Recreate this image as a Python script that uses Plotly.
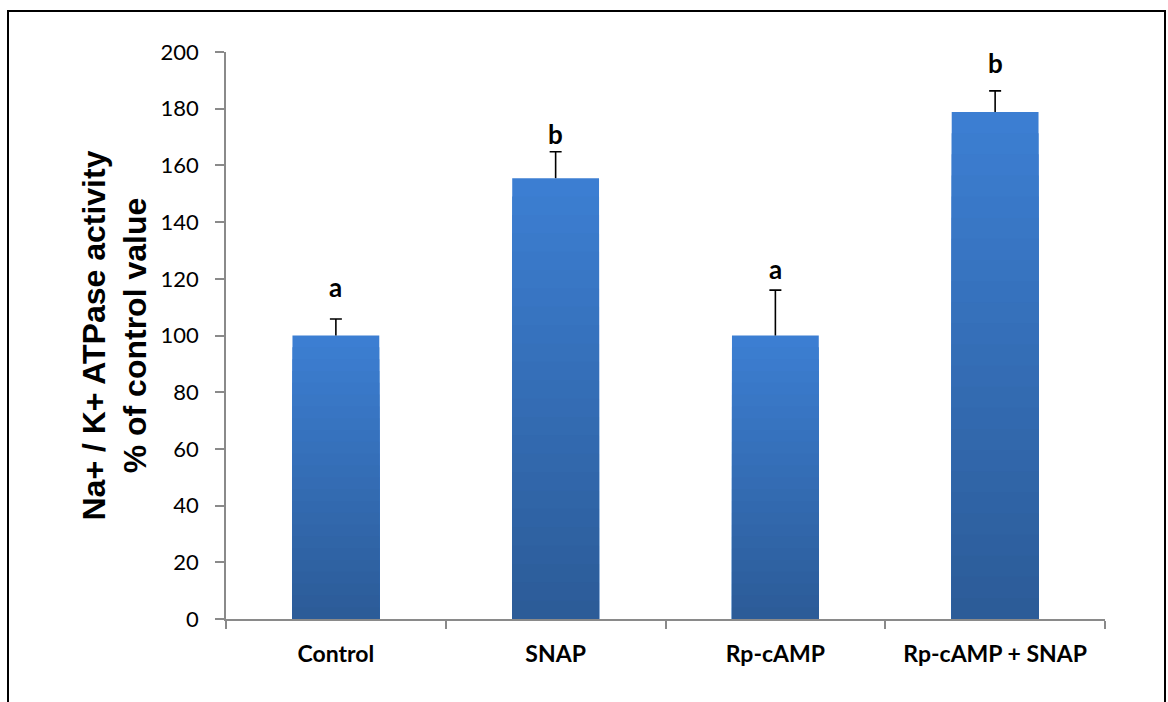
import plotly.graph_objects as go

categories = ["Control", "SNAP", "Rp-cAMP", "Rp-cAMP + SNAP"]
values = [100, 155.5, 100, 178.8]
errors = [5.8, 9.3, 16.0, 7.5]
letters = ["a", "b", "a", "b"]
letter_y = [117, 171, 123.5, 196]
y_ticks = [0, 20, 40, 60, 80, 100, 120, 140, 160, 180, 200]

W, H = 1168, 702
L, R, T, B = 226, 63, 52, 83
pw, ph = W - L - R, H - T - B

top_rgb = (60, 126, 210)
bot_rgb = (44, 92, 152)
N = 24

fig = go.Figure()
for k in range(N, 0, -1):
    f = k / N
    t = (N - k) / (N - 1)
    c = tuple(int(round(top_rgb[i] * (1 - t) + bot_rgb[i] * t)) for i in range(3))
    fig.add_trace(go.Bar(
        x=categories,
        y=[v * f for v in values],
        width=0.395,
        marker=dict(color="rgb(%d,%d,%d)" % c, line=dict(width=0)),
        showlegend=False,
        hoverinfo="skip",
    ))

# error bar stems (upper only)
sx, sy = [], []
for cat, v, e in zip(categories, values, errors):
    sx += [cat, cat, None]
    sy += [v, v + e, None]
fig.add_trace(go.Scatter(x=sx, y=sy, mode="lines",
                         line=dict(color="black", width=1.6),
                         showlegend=False, hoverinfo="skip"))
# error bar caps
fig.add_trace(go.Scatter(
    x=categories, y=[v + e for v, e in zip(values, errors)],
    mode="markers", marker=dict(size=1, color="rgba(0,0,0,0)"),
    error_y=dict(type="data", array=[0] * len(errors), color="black",
                 thickness=1.6, width=6),
    showlegend=False, hoverinfo="skip"))

for cat, lt, ly in zip(categories, letters, letter_y):
    fig.add_annotation(x=cat, y=ly, text="<b>%s</b>" % lt, showarrow=False,
                       font=dict(family="Lato", size=26, color="black"),
                       xanchor="center", yanchor="middle")

fig.add_annotation(
    xref="paper", yref="paper",
    x=(114 - L) / pw, y=0.5,
    text="<b>Na+ / K+ ATPase activity<br>% of control value</b>",
    textangle=-90, showarrow=False,
    font=dict(family="Liberation Sans", size=32, color="black"),
    xanchor="center", yanchor="middle",
)

# outer frame
fig.add_shape(type="rect", xref="paper", yref="paper",
              x0=(8 - L) / pw, x1=(1165 - L) / pw,
              y0=-(720 - (H - B)) / ph,
              y1=((H - B) - 11) / ph,
              line=dict(color="black", width=2), fillcolor="rgba(0,0,0,0)",
              layer="above")

fig.update_layout(
    width=W, height=H,
    margin=dict(l=L, r=R, t=T, b=B),
    paper_bgcolor="white", plot_bgcolor="white",
    barmode="overlay",
    font=dict(family="Lato", color="black"),
    xaxis=dict(
        range=[-0.5, 3.5],
        showline=True, linecolor="#8a8a8a", linewidth=1.5,
        ticks="outside", tickson="boundaries", ticklen=8, tickcolor="#8a8a8a", tickwidth=1.5,
        tickfont=dict(family="Lato", size=23, color="black", weight="bold"),
        ticklabelstandoff=14,
        showgrid=False, zeroline=False,
    ),
    yaxis=dict(
        range=[0, 200],
        tickvals=y_ticks,
        showline=True, linecolor="#8a8a8a", linewidth=1.5,
        ticks="outside", ticklen=9, tickcolor="#8a8a8a", tickwidth=1.5,
        tickfont=dict(family="Lato", size=22, color="black"),
        ticklabelstandoff=12,
        showgrid=False, zeroline=False,
    ),
)

fig.write_html("out.html")
